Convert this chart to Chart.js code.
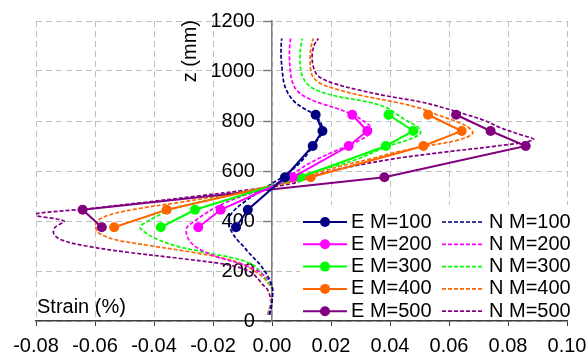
<!DOCTYPE html>
<html>
<head>
<meta charset="utf-8">
<script src="https://cdn.jsdelivr.net/npm/chart.js@4/dist/chart.umd.min.js"></script>
<style>
html, body { margin: 0; padding: 0; background: #fff; }
</style>
</head>
<body>
<canvas id="strainChart" width="587" height="356"></canvas>
<script>
// heights (mm) of the measured points
var eZ = [375, 445, 575, 700, 760, 825];
var e100 = [-0.0122, -0.0082, 0.0044, 0.0138, 0.0171, 0.0148];
var e200 = [-0.0250, -0.0174, 0.0070, 0.0260, 0.0323, 0.0272];
var e300 = [-0.0377, -0.0261, 0.0095, 0.0386, 0.0479, 0.0395];
var e400 = [-0.0535, -0.0357, 0.0131, 0.0513, 0.0643, 0.0529];
var e500 = [-0.0577, -0.0642, 0.0381, 0.0860, 0.0741, 0.0624];

// heights (mm) of the numerical curves
var nZ = [25, 75, 125, 150, 175, 200, 225, 250, 275, 300, 325, 350, 375, 400, 425, 450, 475, 500, 525, 550,
    575, 600, 625, 650, 675, 700, 725, 750, 775, 800, 825, 850, 875, 900, 925, 950, 975, 1000, 1050, 1100, 1130];
var n100 = [-0.0008, 0.0000, 0.0002, -0.0003, -0.0012, -0.0025, -0.0040, -0.0060, -0.0080, -0.0098, -0.0118, -0.0133,
    -0.0144, -0.0148, -0.0140, -0.0122, -0.0095, -0.0065, -0.0030, 0.0000, 0.0035, 0.0062, 0.0088, 0.0108, 0.0124,
    0.0140, 0.0155, 0.0168, 0.0170, 0.0162, 0.0145, 0.0108, 0.0078, 0.0060, 0.0048, 0.0041, 0.0037, 0.0035, 0.0031,
    0.0031, 0.0033];
var n200 = [-0.0010, -0.0002, 0.0002, -0.0005, -0.0020, -0.0048, -0.0095, -0.0170, -0.0225, -0.0262, -0.0282, -0.0290,
    -0.0288, -0.0262, -0.0232, -0.0198, -0.0155, -0.0100, -0.0030, 0.0015, 0.0050, 0.0085, 0.0118, 0.0158, 0.0205,
    0.0255, 0.0300, 0.0332, 0.0335, 0.0310, 0.0275, 0.0220, 0.0155, 0.0108, 0.0082, 0.0071, 0.0065, 0.0062, 0.0059,
    0.0060, 0.0063];
var n300 = [-0.0012, -0.0003, 0.0000, -0.0010, -0.0025, -0.0042, -0.0065, -0.0125, -0.0230, -0.0325, -0.0385, -0.0425,
    -0.0447, -0.0420, -0.0380, -0.0330, -0.0250, -0.0160, -0.0060, 0.0020, 0.0080, 0.0150, 0.0230, 0.0295, 0.0345,
    0.0395, 0.0462, 0.0503, 0.0495, 0.0458, 0.0425, 0.0395, 0.0330, 0.0215, 0.0148, 0.0118, 0.0105, 0.0098, 0.0095,
    0.0098, 0.0103];
var n400 = [-0.0015, -0.0004, 0.0000, -0.0012, -0.0030, -0.0060, -0.0095, -0.0160, -0.0270, -0.0405, -0.0530, -0.0585,
    -0.0598, -0.0592, -0.0550, -0.0450, -0.0310, -0.0180, -0.0060, 0.0030, 0.0100, 0.0175, 0.0250, 0.0340, 0.0420,
    0.0525, 0.0635, 0.0680, 0.0665, 0.0620, 0.0560, 0.0505, 0.0420, 0.0310, 0.0225, 0.0165, 0.0140, 0.0132, 0.0129,
    0.0133, 0.0140];
var n500 = [-0.0013, -0.0004, -0.0015, -0.0035, -0.0052, -0.0078, -0.0150, -0.0310, -0.0490, -0.0630, -0.0715, -0.0740,
    -0.0735, -0.0705, -0.0810, -0.0615, -0.0430, -0.0250, -0.0080, 0.0070, 0.0130, 0.0200, 0.0300, 0.0420, 0.0580,
    0.0760, 0.0886, 0.0830, 0.0770, 0.0725, 0.0660, 0.0590, 0.0510, 0.0390, 0.0290, 0.0210, 0.0162, 0.0145, 0.0136,
    0.0142, 0.0157];

var xTicks = [-0.08, -0.06, -0.04, -0.02, 0.00, 0.02, 0.04, 0.06, 0.08, 0.10];
var yTicks = [0, 200, 400, 600, 800, 1000, 1200];

var seriesE = [e100, e200, e300, e400, e500];
var seriesN = [n100, n200, n300, n400, n500];
var labelsE = ['E M=100', 'E M=200', 'E M=300', 'E M=400', 'E M=500'];
var labelsN = ['N M=100', 'N M=200', 'N M=300', 'N M=400', 'N M=500'];
var colors = ['#000080', '#FF00FF', '#00FF00', '#FF6600', '#800080'];

var FONT = 'Liberation Sans, Arial, sans-serif';

function toPoints(xs, zs) {
    return xs.map(function (v, i) { return {x: v, y: zs[i]}; });
}

var datasets = [];
for (var i = 0; i < 5; i++) {
    datasets.push({
        label: labelsE[i],
        data: toPoints(seriesE[i], eZ),
        showLine: true,
        borderColor: colors[i],
        backgroundColor: colors[i],
        borderWidth: 2,
        pointRadius: 5,
        pointBorderWidth: 0,
        tension: 0
    });
}
for (var j = 0; j < 5; j++) {
    datasets.push({
        label: labelsN[j],
        data: toPoints(seriesN[j], nZ),
        showLine: true,
        borderColor: colors[j],
        backgroundColor: colors[j],
        borderWidth: 1.7,
        borderDash: [4, 2],
        pointRadius: 0,
        tension: 0.35
    });
}

// legend box drawn inside the plot, bottom right, two columns
var boxLegend = {
    id: 'boxLegend',
    afterDraw: function (chart) {
        var ctx = chart.ctx;
        var area = chart.chartArea;
        var top = area.bottom - 116;
        var left = area.left + 264;
        ctx.save();
        ctx.fillStyle = '#ffffff';
        ctx.fillRect(left, top, area.right - left + 1, area.bottom - top - 3);
        ctx.font = '20px ' + FONT;
        ctx.textBaseline = 'middle';
        ctx.textAlign = 'left';
        for (var k = 0; k < 5; k++) {
            var y = top + 17 + k * 22.3;
            // experiment column
            ctx.strokeStyle = colors[k];
            ctx.lineWidth = 2;
            ctx.setLineDash([]);
            ctx.beginPath();
            ctx.moveTo(left + 3, y);
            ctx.lineTo(left + 47, y);
            ctx.stroke();
            ctx.fillStyle = colors[k];
            ctx.beginPath();
            ctx.arc(left + 25, y, 5, 0, Math.PI * 2);
            ctx.fill();
            ctx.fillStyle = '#000';
            ctx.fillText(labelsE[k], left + 51, y);
            // numerical column
            ctx.lineWidth = 1.7;
            ctx.setLineDash([4, 2]);
            ctx.beginPath();
            ctx.moveTo(left + 142, y);
            ctx.lineTo(left + 183, y);
            ctx.stroke();
            ctx.setLineDash([]);
            ctx.fillStyle = '#000';
            ctx.fillText(labelsN[k], left + 189, y);
        }
        ctx.restore();
    }
};

// axis titles placed like the original figure
var axisTitles = {
    id: 'axisTitles',
    afterDraw: function (chart) {
        var ctx = chart.ctx;
        var area = chart.chartArea;
        var x0 = chart.scales.x.getPixelForValue(0);
        ctx.save();
        ctx.fillStyle = '#000';
        ctx.font = '20px ' + FONT;
        ctx.textBaseline = 'middle';
        ctx.textAlign = 'left';
        ctx.fillText('Strain (%)', area.left + 1, area.bottom - 14);
        ctx.translate(x0 - 82, area.top - 1);
        ctx.rotate(-Math.PI / 2);
        ctx.textAlign = 'right';
        ctx.fillText('z (mm)', 0, 0);
        ctx.restore();
    }
};

function fixedYTicks(scale) {
    scale.ticks = yTicks.map(function (v) { return {value: v}; });
}
function noPadding(scale) {
    scale.paddingTop = 0;
    scale.paddingBottom = 0;
}

var chartConfig = {
    type: 'scatter',
    data: {datasets: datasets},
    options: {
        responsive: false,
        animation: false,
        layout: {padding: {left: 36, right: 20, top: 21, bottom: 0}},
        plugins: {
            legend: {display: false},
            tooltip: {enabled: false}
        },
        scales: {
            x: {
                type: 'linear',
                position: 'bottom',
                min: -0.08,
                max: 0.10,
                afterBuildTicks: function (scale) {
                    scale.ticks = xTicks.map(function (v) { return {value: v}; });
                },
                afterFit: function (scale) {
                    scale.height = 35;
                    scale.paddingLeft = 0;
                    scale.paddingRight = 0;
                },
                ticks: {
                    color: '#000',
                    font: {family: FONT, size: 20},
                    padding: 8,
                    maxRotation: 0,
                    autoSkip: false,
                    callback: function (v) { return Number(v).toFixed(2); }
                },
                grid: {
                    color: '#BFBFBF',
                    lineWidth: 1,
                    drawTicks: true,
                    tickLength: 5,
                    tickColor: '#404040',
                    tickWidth: 1
                },
                border: {display: true, color: '#404040', width: 1.5, dash: [6, 4]}
            },
            // the axis line through strain = 0, with its grid and tick marks
            y: {
                type: 'linear',
                position: {x: 0},
                min: 0,
                max: 1200,
                afterBuildTicks: fixedYTicks,
                afterFit: noPadding,
                ticks: {display: false},
                grid: {
                    color: '#BFBFBF',
                    lineWidth: 1,
                    drawTicks: true,
                    tickLength: 8,
                    tickColor: '#808080',
                    tickWidth: 1.5
                },
                border: {display: true, color: '#808080', width: 1.5, dash: [6, 4]}
            },
            // labels only, set a little left of the axis line
            yLabels: {
                type: 'linear',
                position: {x: -0.0058},
                min: 0,
                max: 1200,
                afterBuildTicks: fixedYTicks,
                afterFit: noPadding,
                ticks: {
                    color: '#000',
                    font: {family: FONT, size: 20},
                    autoSkip: false,
                    callback: function (v) { return String(v); }
                },
                grid: {display: false, drawTicks: false},
                border: {display: false}
            }
        }
    },
    plugins: [boxLegend, axisTitles]
};

var strainChart = new Chart(document.getElementById('strainChart').getContext('2d'), chartConfig);
</script>
</body>
</html>
